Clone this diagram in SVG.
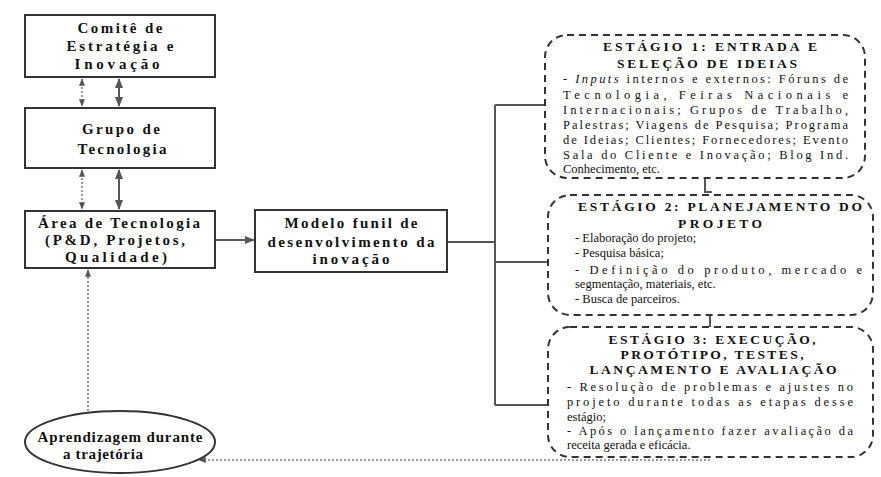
<svg xmlns="http://www.w3.org/2000/svg" width="881" height="477" viewBox="0 0 881 477">
<defs>
<marker id="ah" viewBox="0 0 10 10" refX="9" refY="5" markerWidth="5" markerHeight="5" orient="auto-start-reverse"><path d="M0,1 L10,5 L0,9 z" fill="#555"/></marker>
<style>
.box{fill:#fff;stroke:#333;stroke-width:2}
.stg{fill:#fff;stroke:#333;stroke-width:2;stroke-dasharray:7,5}
.t{font-family:"Liberation Serif","Times New Roman",serif;font-weight:bold;font-size:15px;fill:#111;text-anchor:middle}
.h{font-family:"Liberation Serif","Times New Roman",serif;font-weight:bold;font-size:13.5px;fill:#111;text-anchor:middle}
.b{font-family:"Liberation Serif","Times New Roman",serif;font-size:12.5px;fill:#111}
.sol{stroke:#555;stroke-width:2;fill:none}
.dot{stroke:#777;stroke-width:1.5;stroke-dasharray:2,2;fill:none}
</style>
</defs>
<rect width="881" height="477" fill="#fff"/>
<g id="connectors">
<line class="dot" x1="82" y1="79" x2="82" y2="106" marker-start="url(#ah)" marker-end="url(#ah)"/>
<line class="sol" x1="119" y1="79" x2="119" y2="106" marker-start="url(#ah)" marker-end="url(#ah)"/>
<line class="dot" x1="82" y1="170" x2="82" y2="209" marker-start="url(#ah)" marker-end="url(#ah)"/>
<line class="sol" x1="119" y1="170" x2="119" y2="209" marker-start="url(#ah)" marker-end="url(#ah)"/>
<line class="sol" x1="216" y1="240" x2="254" y2="240" stroke-width="1.2" marker-end="url(#ah)"/>
<line class="sol" x1="447" y1="242" x2="495" y2="242"/>
<line class="sol" x1="495" y1="105" x2="495" y2="405"/>
<line class="sol" x1="495" y1="105" x2="545" y2="105"/>
<line class="sol" x1="495" y1="262" x2="548" y2="262"/>
<line class="sol" x1="495" y1="405" x2="548" y2="405"/>
<polyline class="sol" stroke-width="1.5" points="705,178 705,192 712,192"/>
<line class="sol" stroke-width="1.5" x1="710" y1="315" x2="710" y2="327"/>
<line class="dot" x1="88" y1="411" x2="88" y2="270" marker-end="url(#ah)"/>
<line class="dot" x1="710" y1="460" x2="199" y2="460" marker-end="url(#ah)"/>
</g>
<g id="comite">
<rect class="box" x="25" y="15" width="190" height="62"/>
<text class="t" x="120" y="33" textLength="85">Comitê de</text>
<text class="t" x="120" y="51" textLength="107">Estratégia e</text>
<text class="t" x="117" y="69" textLength="85">Inovação</text>
</g>
<g id="grupo">
<rect class="box" x="25" y="108" width="190" height="60"/>
<text class="t" x="121" y="134" textLength="78">Grupo de</text>
<text class="t" x="122" y="154" textLength="89">Tecnologia</text>
</g>
<g id="area">
<rect class="box" x="25" y="211" width="190" height="57"/>
<text class="t" x="119" y="228" textLength="162">Área de Tecnologia</text>
<text class="t" x="115" y="245" textLength="140">(P&amp;D, Projetos,</text>
<text class="t" x="116" y="262" textLength="102">Qualidade)</text>
</g>
<g id="modelo">
<rect class="box" x="255" y="210" width="192" height="62"/>
<text class="t" x="351" y="228" textLength="133">Modelo funil de</text>
<text class="t" x="351" y="247" textLength="167">desenvolvimento da</text>
<text class="t" x="351" y="264" textLength="77">inovação</text>
</g>
<g id="aprendizagem">
<ellipse class="box" cx="120" cy="442" rx="95" ry="31"/>
<text class="t" x="120" y="442" textLength="165">Aprendizagem durante</text>
<text class="t" x="103" y="459" textLength="80">a trajetória</text>
</g>
<g id="estagio1">
<rect class="stg" x="545" y="35" width="320" height="143" rx="22"/>
<text class="h" x="710" y="51" textLength="214">ESTÁGIO 1: ENTRADA E</text>
<text class="h" x="707" y="68" textLength="180">SELEÇÃO DE IDEIAS</text>
<text class="b" x="563" y="83" textLength="285"><tspan font-style="italic">- Inputs</tspan> internos e externos: Fóruns de</text>
<text class="b" x="563" y="99" textLength="285">Tecnologia, Feiras Nacionais e</text>
<text class="b" x="563" y="114" textLength="285">Internacionais; Grupos de Trabalho,</text>
<text class="b" x="563" y="129" textLength="285">Palestras; Viagens de Pesquisa; Programa</text>
<text class="b" x="563" y="144" textLength="285">de Ideias; Clientes; Fornecedores; Evento</text>
<text class="b" x="563" y="159" textLength="285">Sala do Cliente e Inovação; Blog Ind.</text>
<text class="b" x="563" y="173">Conhecimento, etc.</text>
</g>
<g id="estagio2">
<rect class="stg" x="548" y="195" width="325" height="120" rx="22"/>
<text class="h" x="720" y="211" textLength="284">ESTÁGIO 2: PLANEJAMENTO DO</text>
<text class="h" x="720" y="228" textLength="84">PROJETO</text>
<text class="b" x="575" y="242">- Elaboração do projeto;</text>
<text class="b" x="575" y="257">- Pesquisa básica;</text>
<text class="b" x="575" y="274" textLength="287">- Definição do produto, mercado e</text>
<text class="b" x="575" y="288">segmentação, materiais, etc.</text>
<text class="b" x="575" y="303">- Busca de parceiros.</text>
</g>
<g id="estagio3">
<rect class="stg" x="548" y="327" width="325" height="130" rx="22"/>
<text class="h" x="712" y="344" textLength="207">ESTÁGIO 3: EXECUÇÃO,</text>
<text class="h" x="712" y="359" textLength="183">PROTÓTIPO, TESTES,</text>
<text class="h" x="713" y="374" textLength="247">LANÇAMENTO E AVALIAÇÃO</text>
<text class="b" x="567" y="391" textLength="286">- Resolução de problemas e ajustes no</text>
<text class="b" x="567" y="406" textLength="286">projeto durante todas as etapas desse</text>
<text class="b" x="567" y="421">estágio;</text>
<text class="b" x="567" y="435" textLength="286">- Após o lançamento fazer avaliação da</text>
<text class="b" x="567" y="449">receita gerada e eficácia.</text>
</g>
</svg>
